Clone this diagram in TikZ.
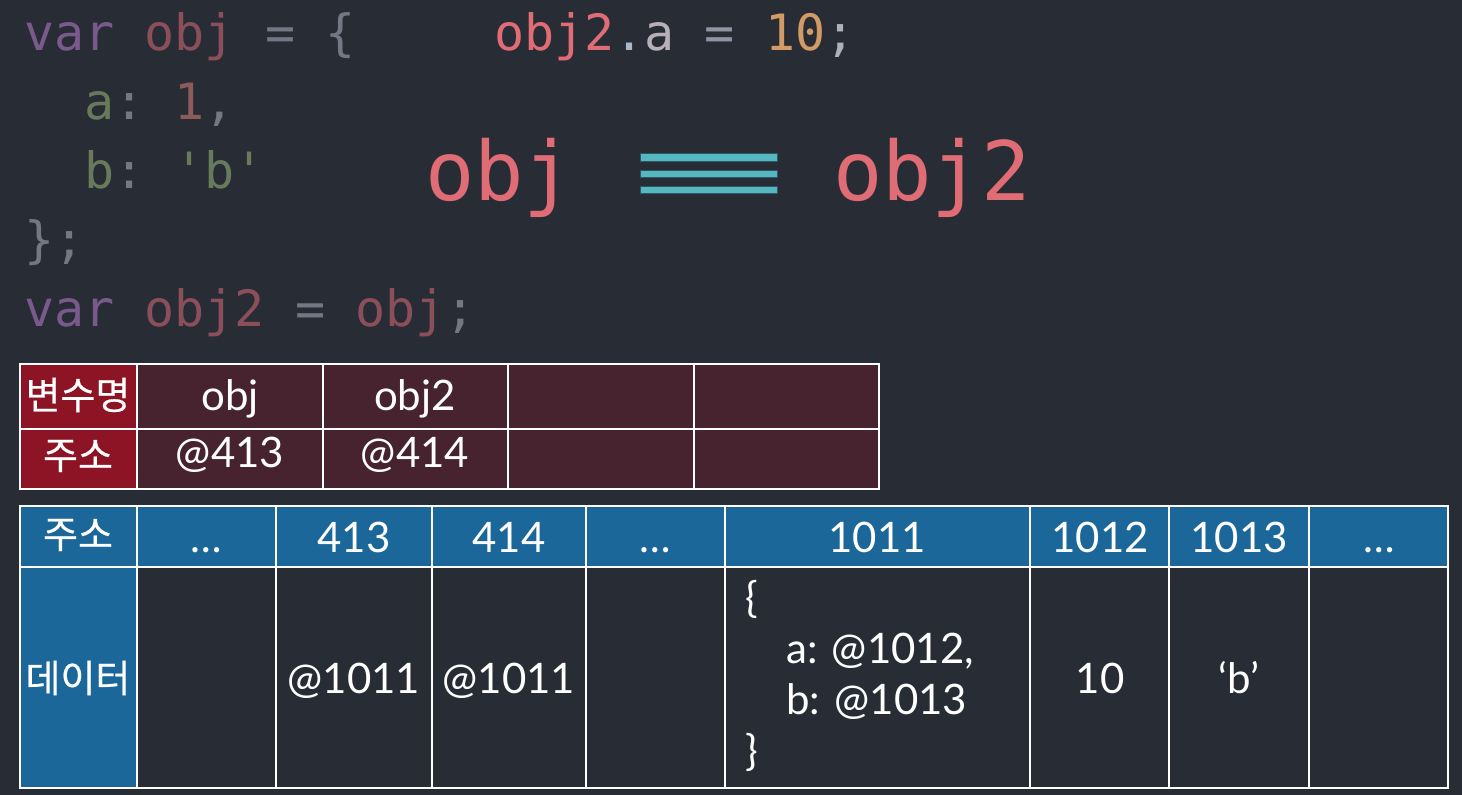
\documentclass[tikz,border=0pt]{standalone}
\usepackage{fontspec}
\setmainfont{Lato}
\setmonofont{DejaVu Sans Mono}
\newfontfamily\korfont{Noto Sans CJK KR}[FakeBold=0.5]
\definecolor{bgcol}{HTML}{282C34}
\definecolor{kwdim}{HTML}{7A5A8C}
\definecolor{iddim}{HTML}{8A4F5A}
\definecolor{pundim}{HTML}{737884}
\definecolor{strdim}{HTML}{687A5C}
\definecolor{numdim}{HTML}{8C5C5A}
\definecolor{idred}{HTML}{E06C75}
\definecolor{dotcol}{HTML}{A8B8C8}
\definecolor{propcol}{HTML}{B8B0B8}
\definecolor{opcol}{HTML}{8F96A3}
\definecolor{numcol}{HTML}{D19A66}
\definecolor{semicol}{HTML}{ABB2BF}
\definecolor{barcol}{HTML}{56B6C2}
\definecolor{barline}{HTML}{2A5A66}
\definecolor{varhead}{HTML}{8C1424}
\definecolor{varcell}{HTML}{472330}
\definecolor{memhead}{HTML}{1C679A}
\begin{document}
\begin{tikzpicture}[x=1pt,y=-1pt,
  code/.style={anchor=base west,inner sep=0pt,font=\ttfamily\fontsize{50}{60}\selectfont},
  big/.style={anchor=base west,inner sep=0pt,text=idred,font=\ttfamily\fontsize{82}{96}\selectfont},
  cell/.style={anchor=base,inner sep=0pt,text=white,font=\fontsize{42}{50}\selectfont},
  kor/.style={inner sep=0pt,text=white,font=\korfont\fontsize{38}{42}\selectfont},
  cellrule/.style={draw=white,line width=2.5pt}]
 \fill[bgcol] (0,0) rectangle (1462,795);
 % code
 \begin{scope}
  \node[code] (line1) at (24,50) {\textcolor{kwdim}{var} \textcolor{iddim}{obj} \textcolor{pundim}{= \{}};
  \node[code] (line2) at (84,119) {\textcolor{strdim}{a}\textcolor{pundim}{:} \textcolor{numdim}{1}\textcolor{pundim}{,}};
  \node[code] (line3) at (84,188) {\textcolor{strdim}{b}\textcolor{pundim}{:} \textcolor{strdim}{'b'}};
  \node[code] (line4) at (24,257) {\textcolor{pundim}{\};}};
  \node[code] (line5) at (24,326) {\textcolor{kwdim}{var} \textcolor{iddim}{obj2} \textcolor{pundim}{=} \textcolor{iddim}{obj}\textcolor{pundim}{;}};
  \node[code] (assign) at (494,50) {\textcolor{idred}{obj2}\textcolor{dotcol}{.}\textcolor{propcol}{a} \textcolor{opcol}{=} \textcolor{numcol}{10}\textcolor{semicol}{;}};
 \end{scope}
 % obj === obj2
 \begin{scope}
  \node[big] (lhs) at (425,200) {obj};
  \node[big] (rhs) at (833,200) {obj2};
  \filldraw[fill=barcol,draw=barline,line width=0.6pt] (640,153) rectangle (777,161);
  \filldraw[fill=barcol,draw=barline,line width=0.6pt] (640,170) rectangle (777,177);
  \filldraw[fill=barcol,draw=barline,line width=0.6pt] (640,186) rectangle (777,193);
 \end{scope}
 % variable table
 \begin{scope}
  \fill[varhead] (20,364) rectangle (137,489);
  \fill[varcell] (137,364) rectangle (879,489);
  \draw[cellrule] (20,364) rectangle (879,489);
  \draw[cellrule] (20,429) -- (879,429);
  \draw[cellrule] (137,364) -- (137,489); \draw[cellrule] (323,364) -- (323,489);
  \draw[cellrule] (508,364) -- (508,489); \draw[cellrule] (694,364) -- (694,489);
  \node[kor] (vname) at (78,395) {변수명};
  \node[kor] (vaddr) at (78,456) {주소};
  \node[cell] (nobj) at (230,410) {obj};
  \node[cell] (nobjb) at (415,410) {obj2};
  \node[cell] (aobj) at (230,467) {@413};
  \node[cell] (aobjb) at (415,467) {@414};
 \end{scope}
 % memory table
 \begin{scope}
  \fill[memhead] (20,506) rectangle (1448,567);
  \fill[memhead] (20,567) rectangle (137,788);
  \draw[cellrule] (20,506) rectangle (1448,788);
  \draw[cellrule] (20,567) -- (1448,567);
  \draw[cellrule] (137,506) -- (137,788); \draw[cellrule] (276,506) -- (276,788);
  \draw[cellrule] (432,506) -- (432,788); \draw[cellrule] (586,506) -- (586,788);
  \draw[cellrule] (725,506) -- (725,788); \draw[cellrule] (1030,506) -- (1030,788);
  \draw[cellrule] (1169,506) -- (1169,788); \draw[cellrule] (1309,506) -- (1309,788);
  \node[kor] (maddr) at (78,535) {주소};
  \node[kor] (mdata) at (78,678) {데이터};
  \node[cell] (h1) at (206,552) {…};
  \node[cell] (h2) at (354,552) {413};
  \node[cell] (h3) at (509,552) {414};
  \node[cell] (h4) at (655,552) {…};
  \node[cell] (h5) at (877,552) {1011};
  \node[cell] (h6) at (1100,552) {1012};
  \node[cell] (h7) at (1239,552) {1013};
  \node[cell] (h8) at (1379,552) {…};
  \node[cell] (d2) at (354,693) {@1011};
  \node[cell] (d3) at (509,693) {@1011};
  \node[cell,anchor=base west] (objopen) at (745,612) {\{};
  \node[cell,anchor=base west] (obja) at (786,663) {a: @1012,};
  \node[cell,anchor=base west] (objb) at (786,714) {b: @1013};
  \node[cell,anchor=base west] (objclose) at (745,765) {\}};
  \node[cell] (d6) at (1100,693) {10};
  \node[cell] (d7) at (1239,693) {‘b’};
 \end{scope}
\end{tikzpicture}
\end{document}
